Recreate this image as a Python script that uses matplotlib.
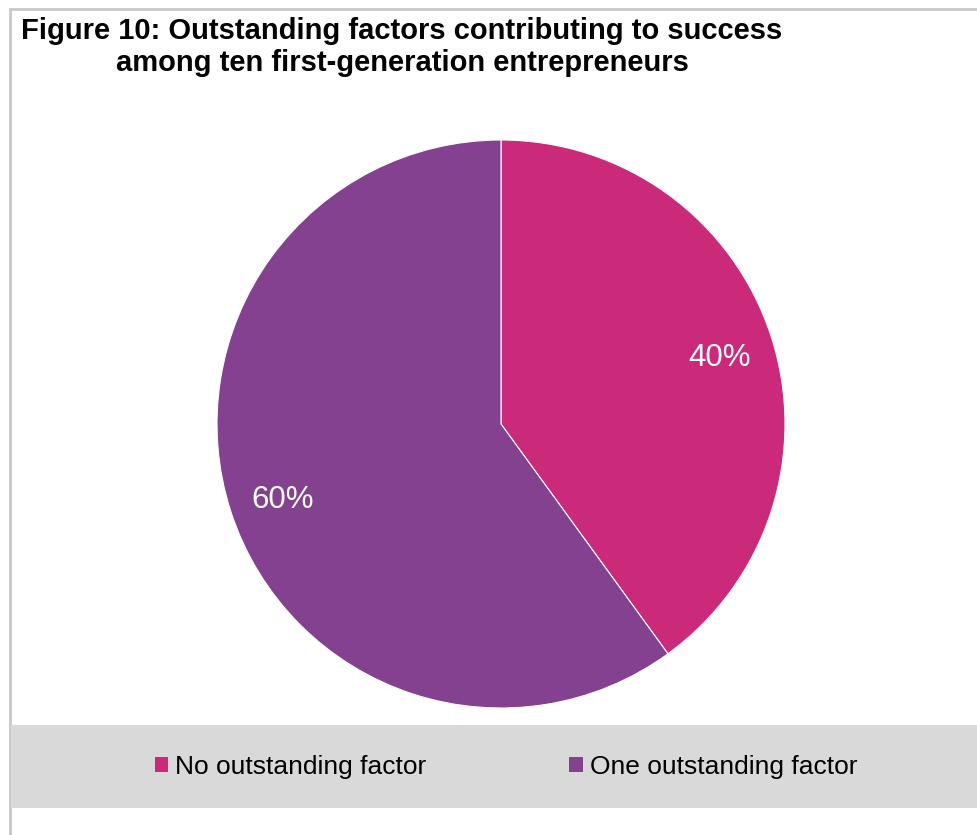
import matplotlib.pyplot as plt
from matplotlib.patches import Rectangle

plt.rcParams['font.family'] = ['Liberation Sans', 'DejaVu Sans']

labels = ['No outstanding factor', 'One outstanding factor']
shares = [40, 60]
colors = ['#CB2A7B', '#84418F']

W, H = 978, 835
fig = plt.figure(figsize=(W / 100, H / 100), dpi=100)

# outer frame and grey legend band, kept behind the pie axes
fig.patches.append(Rectangle((10 / W, -0.1), 1.2, 1 - 9 / H + 0.1, transform=fig.transFigure,
                             facecolor='white', edgecolor='#C8C8C8', linewidth=2, zorder=-2))
fig.patches.append(Rectangle((11 / W, 1 - 808 / H), 1.0, 83 / H, transform=fig.transFigure,
                             facecolor='#D9D9D9', edgecolor='none', zorder=-1))

fig.text(402 / W, 1 - 47 / H, 'Figure 10: Outstanding factors contributing to success\n'
         'among ten first-generation entrepreneurs',
         ha='center', va='center', fontsize=21, fontweight='bold', linespacing=1.2)

r = 284
ax = fig.add_axes([(501 - r) / W, (H - 424 - r) / H, 2 * r / W, 2 * r / H])
ax.patch.set_visible(False)
wedges, texts, autotexts = ax.pie(shares, colors=colors, startangle=90, counterclock=False,
                                  autopct='%1.0f%%', pctdistance=0.81,
                                  wedgeprops=dict(edgecolor='white', linewidth=0.8),
                                  textprops=dict(color='white', fontsize=22.5))
# nudge the percentages down a little so the digits sit centred on their spot
for t in autotexts:
    x, y = t.get_position()
    t.set_position((x, y - 5 / r))
ax.set_xlim(-1, 1)
ax.set_ylim(-1, 1)
ax.set_aspect('equal')

leg = fig.legend(wedges, labels, loc='center', bbox_to_anchor=(506 / W, 1 - 767 / H), ncol=2,
                 frameon=False, fontsize=19, handlelength=0.52, handleheight=0.52,
                 handletextpad=0.27, columnspacing=5.4)
for h in leg.legend_handles:
    h.set_edgecolor('none')

fig.savefig('out.png', dpi=100)
